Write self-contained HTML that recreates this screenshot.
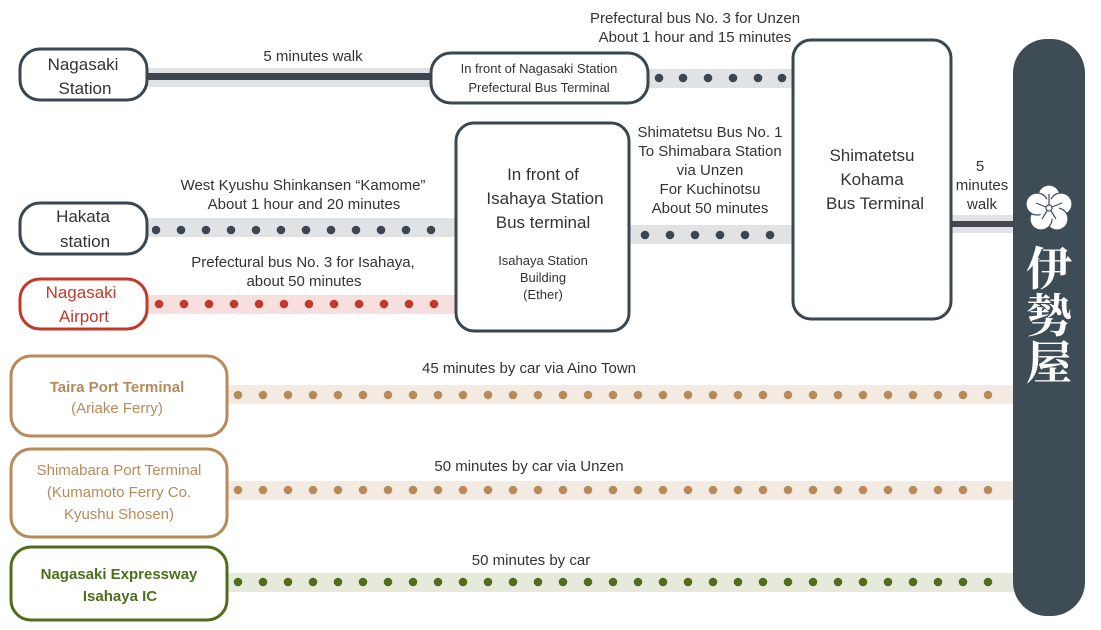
<!DOCTYPE html>
<html><head><meta charset="utf-8"><style>
html,body{margin:0;padding:0;background:#fff;}
svg{display:block;}
text{font-family:"Liberation Sans Narrow","Liberation Sans",sans-serif;fill:#333;}
.bx{font-family:"Liberation Sans",sans-serif;}
</style></head><body>
<svg width="1101" height="630" viewBox="0 0 1101 630" xmlns="http://www.w3.org/2000/svg">
<defs>
<pattern id="pd" width="25" height="20" patternUnits="userSpaceOnUse" x="-6.5" y="0"><circle cx="12.5" cy="10" r="4.3" fill="#3b4650"/></pattern>
<pattern id="pr" width="25" height="20" patternUnits="userSpaceOnUse" x="-3.5" y="294"><circle cx="12.5" cy="10" r="4.3" fill="#c0392b"/></pattern>
<pattern id="pb1" width="25" height="20" patternUnits="userSpaceOnUse" x="0.5" y="385"><circle cx="12.5" cy="10" r="4.3" fill="#b88a5a"/></pattern>
<pattern id="pb2" width="25" height="20" patternUnits="userSpaceOnUse" x="0.5" y="480"><circle cx="12.5" cy="10" r="4.3" fill="#b88a5a"/></pattern>
<pattern id="pg" width="25" height="20" patternUnits="userSpaceOnUse" x="0.5" y="572"><circle cx="12.5" cy="10" r="4.3" fill="#4f6d1c"/></pattern>
</defs>
<!-- bands -->
<rect x="147" y="68" width="285" height="19" fill="#e1e2e4"/>
<rect x="147" y="73" width="285" height="7" fill="#3b4650"/>
<rect x="648" y="69" width="146" height="19" fill="#e1e2e4"/>
<rect x="147" y="218" width="310" height="19" fill="#e1e2e4"/>
<rect x="147" y="295" width="310" height="19" fill="#f6dfdc"/>
<rect x="629" y="225" width="165" height="19" fill="#e1e2e4"/>
<rect x="951" y="215" width="64" height="18" fill="#e1e2e4"/>
<rect x="951" y="221" width="64" height="6" fill="#4a4650"/>
<rect x="227" y="385" width="788" height="19" fill="#f3ebe2"/>
<rect x="227" y="481" width="788" height="19" fill="#f3ebe2"/>
<rect x="227" y="573" width="788" height="19" fill="#e6eadb"/>
<!-- dots -->
<g fill="#3b4650">
<circle cx="659" cy="78" r="4.3"/><circle cx="683" cy="78" r="4.3"/><circle cx="708" cy="78" r="4.3"/><circle cx="733" cy="78" r="4.3"/><circle cx="758" cy="78" r="4.3"/><circle cx="782" cy="78" r="4.3"/>
<circle cx="645" cy="235" r="4.3"/><circle cx="670" cy="235" r="4.3"/><circle cx="695" cy="235" r="4.3"/><circle cx="720" cy="235" r="4.3"/><circle cx="745" cy="235" r="4.3"/><circle cx="770" cy="235" r="4.3"/>
</g>
<rect x="152" y="218" width="290" height="20" fill="url(#pd)"/>
<rect x="152" y="294" width="290" height="20" fill="url(#pr)"/>
<rect x="230" y="385" width="770" height="20" fill="url(#pb1)"/>
<rect x="230" y="480" width="770" height="20" fill="url(#pb2)"/>
<rect x="230" y="572" width="770" height="20" fill="url(#pg)"/>
<!-- boxes -->
<g fill="#fff" stroke-width="3">
<rect x="20" y="49" width="127" height="51" rx="20" stroke="#3b4650"/>
<rect x="431" y="53" width="217" height="50" rx="20" stroke="#3b4650"/>
<rect x="793" y="40" width="158" height="279" rx="18" stroke="#3b4650"/>
<rect x="456" y="123" width="173" height="208" rx="18" stroke="#3b4650"/>
<rect x="20" y="203" width="127" height="51" rx="20" stroke="#3b4650"/>
<rect x="20" y="279" width="127" height="50" rx="20" stroke="#c0392b"/>
<rect x="11" y="356" width="216" height="80" rx="20" stroke="#b88a5a"/>
<rect x="11" y="449" width="216" height="88" rx="20" stroke="#b88a5a"/>
<rect x="11" y="547" width="216" height="73" rx="20" stroke="#4f6d1c"/>
</g>
<rect x="1013" y="39" width="72" height="577" rx="34" fill="#3e4c56"/>
<!-- logo -->
<g fill="#fff" stroke="#3e4c56" stroke-width="1.2">
<circle cx="1049" cy="196" r="11"/><circle cx="1061" cy="204" r="11"/><circle cx="1057" cy="219" r="11"/><circle cx="1041" cy="219" r="11"/><circle cx="1037" cy="204" r="11"/>
<circle cx="1049" cy="209" r="10" stroke="none"/>
<circle cx="1049" cy="208" r="3"/>
<path d="M1049 205 V194 M1052 207 L1062 203 M1051 211 L1056 219 M1047 211 L1042 219 M1046 207 L1036 203" fill="none"/>
</g>
<text x="1049" y="285" font-size="46" text-anchor="middle" style="fill:#fff;font-family:'Noto Serif CJK SC','Noto Sans CJK JP',serif;font-weight:bold">伊</text>
<text x="1049" y="332" font-size="46" text-anchor="middle" style="fill:#fff;font-family:'Noto Serif CJK SC','Noto Sans CJK JP',serif;font-weight:bold">勢</text>
<text x="1049" y="379" font-size="46" text-anchor="middle" style="fill:#fff;font-family:'Noto Serif CJK SC','Noto Sans CJK JP',serif;font-weight:bold">屋</text>
<!-- box text -->
<g text-anchor="middle">
<text class="bx" x="83" y="70" font-size="17">Nagasaki</text><text class="bx" x="85" y="94" font-size="17">Station</text>
<text class="bx" x="83" y="222" font-size="17">Hakata</text><text class="bx" x="85" y="247" font-size="17">station</text>
<text class="bx" x="81" y="298" font-size="17" style="fill:#c0392b">Nagasaki</text><text class="bx" x="84" y="322" font-size="17" style="fill:#c0392b">Airport</text>
<text class="bx" x="539" y="73" font-size="13">In front of Nagasaki Station</text>
<text class="bx" x="539" y="92" font-size="13">Prefectural Bus Terminal</text>
<text class="bx" x="543" y="180" font-size="17">In front of</text>
<text class="bx" x="545" y="204" font-size="17">Isahaya Station</text>
<text class="bx" x="543" y="228" font-size="17">Bus terminal</text>
<text class="bx" x="543" y="265" font-size="13">Isahaya Station</text>
<text class="bx" x="543" y="282" font-size="13">Building</text>
<text class="bx" x="543" y="299" font-size="13">(Ether)</text>
<text class="bx" x="872" y="161" font-size="17">Shimatetsu</text>
<text class="bx" x="872" y="185" font-size="17">Kohama</text>
<text class="bx" x="875" y="209" font-size="17">Bus Terminal</text>
<text class="bx" x="117" y="392" font-size="15" style="fill:#b88a5a;font-weight:600">Taira Port Terminal</text>
<text class="bx" x="117" y="413" font-size="15" style="fill:#b88a5a">(Ariake Ferry)</text>
<text class="bx" x="119" y="475" font-size="15" style="fill:#b88a5a">Shimabara Port Terminal</text>
<text class="bx" x="119" y="497" font-size="15" style="fill:#b88a5a">(Kumamoto Ferry Co.</text>
<text class="bx" x="119" y="519" font-size="15" style="fill:#b88a5a">Kyushu Shosen)</text>
<text class="bx" x="119" y="579" font-size="15" font-weight="bold" style="fill:#4f6d1c">Nagasaki Expressway</text>
<text class="bx" x="120" y="601" font-size="15" font-weight="bold" style="fill:#4f6d1c">Isahaya IC</text>
</g>
<!-- labels -->
<g text-anchor="middle">
<text x="313" y="61" font-size="15" text-anchor="middle">5 minutes walk</text>
<text x="695" y="23" text-anchor="middle" font-size="15">Prefectural bus No. 3 for Unzen</text>
<text x="695" y="42" text-anchor="middle" font-size="15">About 1 hour and 15 minutes</text>
<text x="303" y="190" text-anchor="middle" font-size="15">West Kyushu Shinkansen “Kamome”</text>
<text x="304" y="209" text-anchor="middle" font-size="15">About 1 hour and 20 minutes</text>
<text x="303" y="267" text-anchor="middle" font-size="15">Prefectural bus No. 3 for Isahaya,</text>
<text x="304" y="286" text-anchor="middle" font-size="15">about 50 minutes</text>
<text x="710" y="137" text-anchor="middle" font-size="15">Shimatetsu Bus No. 1</text>
<text x="710" y="156" text-anchor="middle" font-size="15">To Shimabara Station</text>
<text x="710" y="175" text-anchor="middle" font-size="15">via Unzen</text>
<text x="710" y="194" text-anchor="middle" font-size="15">For Kuchinotsu</text>
<text x="710" y="213" text-anchor="middle" font-size="15">About 50 minutes</text>
<text x="980" y="171" text-anchor="middle" font-size="15">5</text>
<text x="982" y="190" text-anchor="middle" font-size="15">minutes</text>
<text x="982" y="209" text-anchor="middle" font-size="15">walk</text>
<text x="529" y="373" text-anchor="middle" font-size="15">45 minutes by car via Aino Town</text>
<text x="529" y="471" text-anchor="middle" font-size="15">50 minutes by car via Unzen</text>
<text x="531" y="565" text-anchor="middle" font-size="15">50 minutes by car</text>
</g>
</svg>
</body></html>
